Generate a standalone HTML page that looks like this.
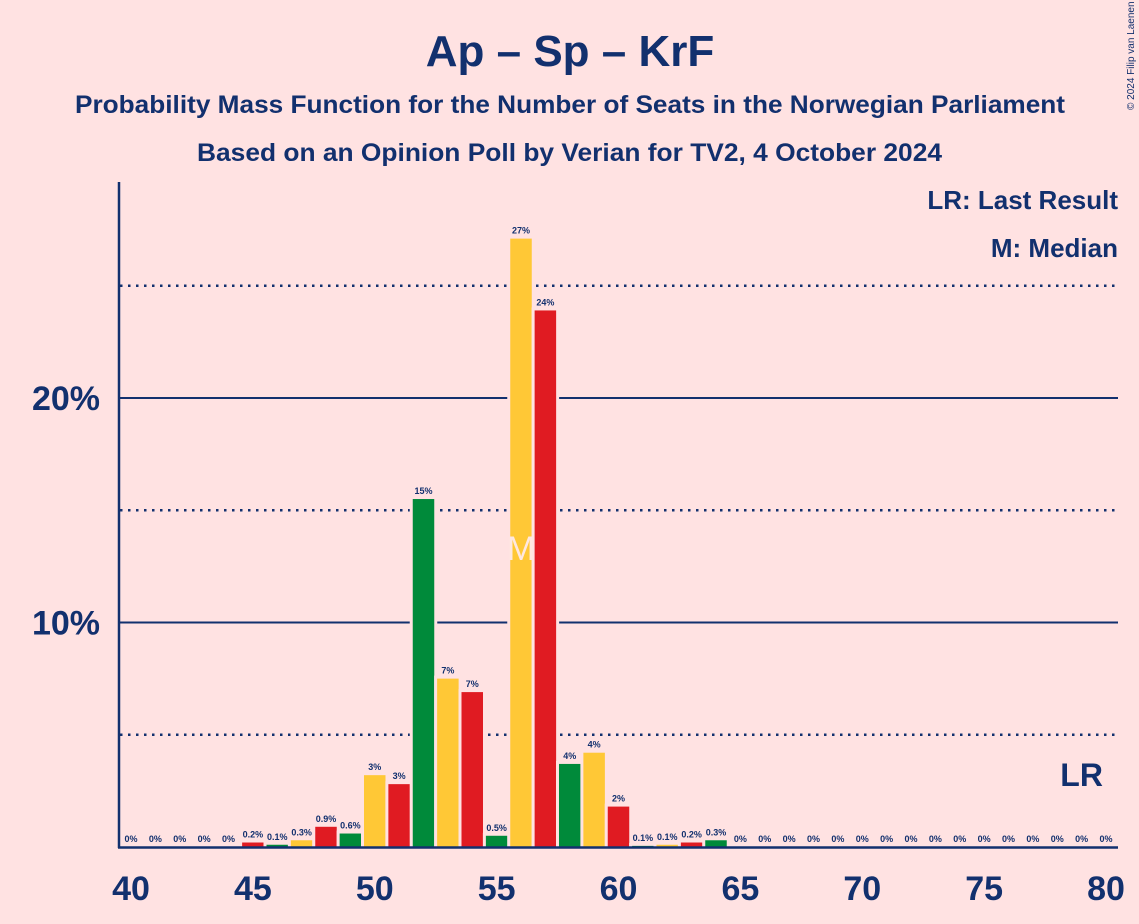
<!DOCTYPE html>
<html><head><meta charset="utf-8"><style>
body{margin:0;background:#ffe2e2;}
svg{display:block;font-family:"Liberation Sans",sans-serif;}
</style></head><body>
<svg id="chart" width="1139" height="924" viewBox="0 0 1139 924">
<rect width="1139" height="924" fill="#ffe2e2"/>
<text x="570" y="66" text-anchor="middle" font-size="44" font-weight="bold" fill="#12306e">Ap – Sp – KrF</text>
<text x="75" y="113" font-size="25" font-weight="bold" fill="#12306e" textLength="990" lengthAdjust="spacingAndGlyphs">Probability Mass Function for the Number of Seats in the Norwegian Parliament</text>
<text x="197" y="161" font-size="25" font-weight="bold" fill="#12306e" textLength="745" lengthAdjust="spacingAndGlyphs">Based on an Opinion Poll by Verian for TV2, 4 October 2024</text>
<text transform="translate(1134,110) rotate(-90)" font-size="10" fill="#12306e">© 2024 Filip van Laenen</text>
<text x="1118" y="209" text-anchor="end" font-size="26" font-weight="bold" fill="#12306e">LR: Last Result</text>
<text x="1118" y="257" text-anchor="end" font-size="26" font-weight="bold" fill="#12306e">M: Median</text>
<g id="grid"></g><g id="bars"></g><g id="axes"></g>
</svg>
<script>
const seats=[40,41,42,43,44,45,46,47,48,49,50,51,52,53,54,55,56,57,58,59,60,61,62,63,64,65,66,67,68,69,70,71,72,73,74,75,76,77,78,79,80];
const probs=[0,0,0,0,0,0.2,0.1,0.3,0.9,0.6,3.2,2.8,15.5,7.5,6.9,0.5,27.1,23.9,3.7,4.2,1.8,0.05,0.1,0.2,0.3,0,0,0,0,0,0,0,0,0,0,0,0,0,0,0,0];
const printed=["0%","0%","0%","0%","0%","0.2%","0.1%","0.3%","0.9%","0.6%","3%","3%","15%","7%","7%","0.5%","27%","24%","4%","4%","2%","0.1%","0.1%","0.2%","0.3%","0%","0%","0%","0%","0%","0%","0%","0%","0%","0%","0%","0%","0%","0%","0%","0%"];
const xTicks=[40,45,50,55,60,65,70,75,80];
const yTicks=[10,20];
const yDotted=[5,15,25];
const medianSeat=56, lastResult=79;
const NS="http://www.w3.org/2000/svg";
const X=s=>131+(s-40)*24.375;
const Y=p=>847-p*22.45;
const colors=["#008a3a","#ffc836","#e01b22"];
function mk(tag,attrs,parent,txt){const e=document.createElementNS(NS,tag);for(const k in attrs)e.setAttribute(k,attrs[k]);if(txt!==undefined)e.textContent=txt;parent.appendChild(e);return e;}
const grid=document.getElementById('grid'),bars=document.getElementById('bars'),axes=document.getElementById('axes');
yDotted.forEach(v=>{const l=mk('line',{x1:120,x2:1118,y1:Y(v),y2:Y(v),stroke:'#12306e','stroke-width':2.5,'stroke-dasharray':'2.5 5.5'},grid);

});
yTicks.forEach(v=>{const l=mk('line',{x1:120,x2:1118,y1:Y(v),y2:Y(v),stroke:'#12306e','stroke-width':2},grid);


const t=mk('text',{x:100,y:Y(v)+12,'text-anchor':'end','font-size':34,'font-weight':'bold',fill:'#12306e'},axes,v+'%');

});
seats.forEach((s,i)=>{const p=probs[i],cx=X(s),w=21.5,top=Y(p);
if(p>0){mk('rect',{x:cx-w/2-3,y:top-3,width:w+6,height:847-top+3,fill:'#ffe2e2'},bars);
const r=mk('rect',{x:cx-w/2,y:top,width:w,height:847-top,fill:colors[(s-52+300)%3]},bars);

}
const t=mk('text',{x:cx,y:top-5,'text-anchor':'middle','font-size':9,'font-weight':'bold',fill:'#12306e'},bars,printed[i]);

});
const m=mk('text',{x:X(medianSeat),y:560,'text-anchor':'middle','font-size':34,fill:'#ffe8e0'},bars,'M');


const lr=mk('text',{x:X(lastResult),y:786,'text-anchor':'middle','font-size':32,'font-weight':'bold',fill:'#12306e'},bars,'LR');


const ya=mk('line',{x1:119,x2:119,y1:182,y2:848,stroke:'#12306e','stroke-width':2.5},axes);


const xa=mk('line',{x1:118,x2:1118,y1:847.5,y2:847.5,stroke:'#12306e','stroke-width':2.5},axes);


xTicks.forEach(s=>{const t=mk('text',{x:X(s),y:900,'text-anchor':'middle','font-size':34,'font-weight':'bold',fill:'#12306e'},axes,s);

});
</script>
</body></html>
